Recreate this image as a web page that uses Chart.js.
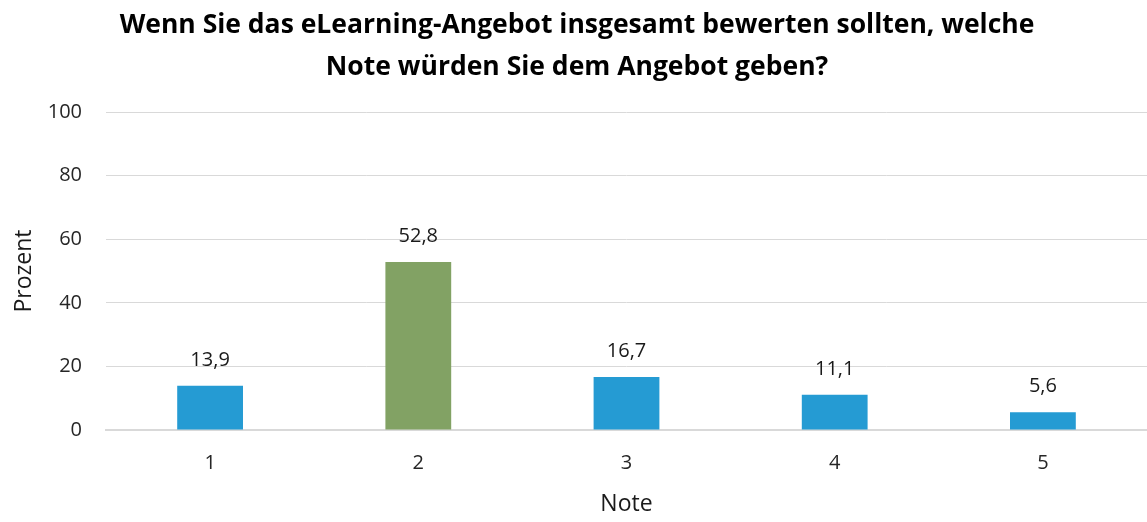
<!DOCTYPE html>
<html>
<head>
<meta charset="utf-8">
<script src="https://cdn.jsdelivr.net/npm/chart.js@4"></script>
<style>
  html, body { margin: 0; padding: 0; background: #fff; }
  #chart { display: block; }
</style>
</head>
<body>
<canvas id="chart" width="1147" height="522"></canvas>
<script>
// Daten aus dem Bild
const titleLines = ["Wenn Sie das eLearning-Angebot insgesamt bewerten sollten, welche", "Note würden Sie dem Angebot geben?"];
const noten = ["1", "2", "3", "4", "5"];
const prozent = [13.9, 52.8, 16.7, 11.1, 5.6];
const barColors = ["#259bd3", "#82a264", "#259bd3", "#259bd3", "#259bd3"];
const yTicks = [0, 20, 40, 60, 80, 100];

const FONT = "'Open Sans', 'Noto Sans', sans-serif";
const fmt = v => v.toFixed(1).replace(".", ",");

// Titel oben, zweizeilig
const titlePlugin = {
  id: "titel",
  afterDraw(chart) {
    const ctx = chart.ctx;
    ctx.save();
    ctx.fillStyle = "#000";
    ctx.font = "bold 26.5px " + FONT;
    ctx.textAlign = "center";
    ctx.textBaseline = "alphabetic";
    ctx.fillText(titleLines[0], 577, 33);
    ctx.fillText(titleLines[1], 577, 75);
    ctx.restore();
  }
};

// Werte über den Balken
const valuePlugin = {
  id: "werte",
  afterDatasetsDraw(chart) {
    const ctx = chart.ctx;
    const meta = chart.getDatasetMeta(0);
    ctx.save();
    ctx.fillStyle = "#1a1a1a";
    ctx.font = "20px " + FONT;
    ctx.textAlign = "center";
    ctx.textBaseline = "alphabetic";
    meta.data.forEach((bar, i) => {
      ctx.fillText(fmt(prozent[i]), bar.x, bar.y - 20);
    });
    ctx.restore();
  }
};

const ctx = document.getElementById("chart").getContext("2d");
new Chart(ctx, {
  type: "bar",
  data: {
    labels: noten,
    datasets: [{
      data: prozent,
      backgroundColor: barColors,
      borderWidth: 0,
      barPercentage: 0.316,
      categoryPercentage: 1
    }]
  },
  options: {
    responsive: false,
    animation: false,
    layout: { padding: { top: 112, right: -3, left: 0, bottom: 0 } },
    scales: {
      y: {
        min: 0,
        max: 100,
        afterBuildTicks: scale => { scale.ticks = yTicks.map(v => ({ value: v })); },
        afterFit: scale => { scale.width = 106; },
        border: { display: false },
        grid: { color: "#d9d9d9", lineWidth: 1, drawTicks: false },
        ticks: { color: "#262626", font: { family: FONT, size: 20 }, padding: 24 },
        title: { display: true, text: "Prozent", color: "#1a1a1a", font: { family: FONT, size: 23 }, padding: { top: 11 } }
      },
      x: {
        afterFit: scale => { scale.height = 92; },
        border: { color: "#d9d9d9", width: 2 },
        grid: { display: false },
        ticks: { color: "#262626", font: { family: FONT, size: 20 }, padding: 13 },
        title: { display: true, text: "Note", color: "#1a1a1a", font: { family: FONT, size: 23 }, padding: { top: 13 } }
      }
    },
    plugins: {
      legend: { display: false },
      tooltip: { enabled: false },
      title: { display: false }
    }
  },
  plugins: [titlePlugin, valuePlugin]
});
</script>
</body>
</html>
